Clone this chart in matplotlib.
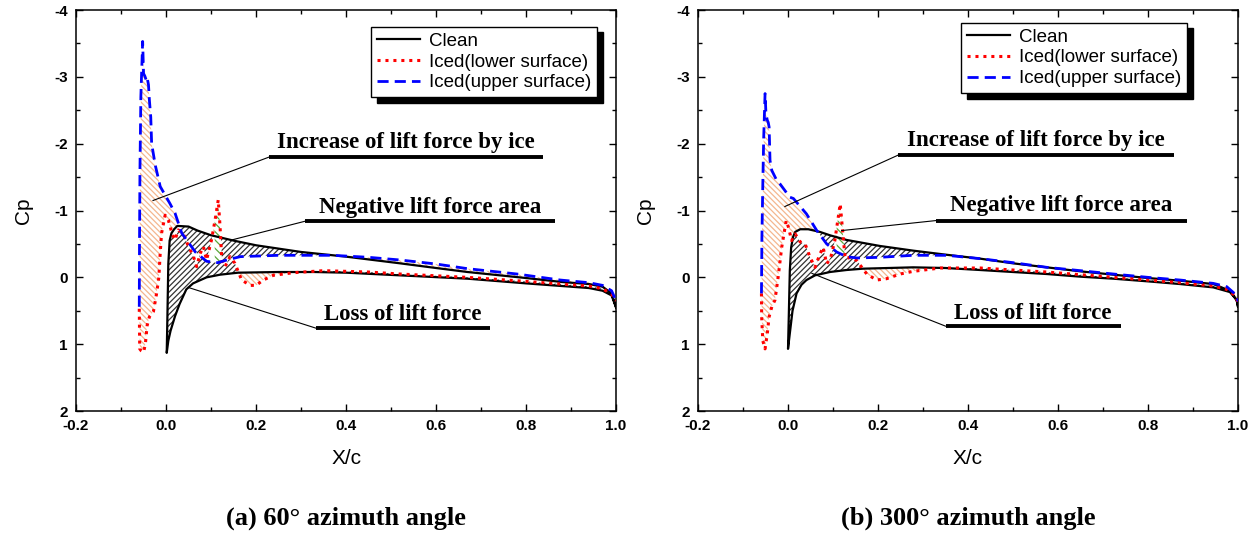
import numpy as np
import matplotlib.pyplot as plt
from matplotlib.ticker import MultipleLocator

# ---- data (x/c, Cp) ----
# (a) 60 deg azimuth
clean_up_x_a = [0.0015, 0.003, 0.005, 0.008, 0.012, 0.018, 0.025, 0.05, 0.07, 0.1, 0.15, 0.2, 0.3, 0.4,
                0.52, 0.6, 0.67, 0.8, 0.88, 0.94, 0.97, 0.99, 1.0]
clean_up_cp_a = [1.13, 0.6, -0.2, -0.55, -0.66, -0.72, -0.77, -0.76, -0.7, -0.63, -0.55, -0.48, -0.38, -0.31,
                 -0.21, -0.14, -0.08, 0.01, 0.07, 0.1, 0.14, 0.24, 0.45]
clean_lo_x_a = [0.0015, 0.005, 0.01, 0.02, 0.03, 0.045, 0.06, 0.09, 0.12, 0.16, 0.25, 0.33, 0.4, 0.52, 0.67,
                0.8, 0.88, 0.94, 0.97, 0.99, 1.0]
clean_lo_cp_a = [1.13, 0.95, 0.8, 0.58, 0.4, 0.18, 0.09, 0.0, -0.04, -0.07, -0.08, -0.08, -0.07, -0.03, 0.02,
                 0.09, 0.13, 0.16, 0.2, 0.27, 0.45]
iced_up_x_a = [-0.0595, -0.059, -0.058, -0.056, -0.052, -0.05, -0.047, -0.044, -0.042, -0.039, -0.037, -0.034,
               -0.032, -0.024, -0.013, 0.009, 0.02, 0.035, 0.065, 0.09, 0.115, 0.135, 0.165, 0.25, 0.37, 0.45,
               0.52, 0.6, 0.67, 0.78, 0.876, 0.94, 0.97, 0.99, 1.0]
iced_up_cp_a = [0.44, -0.5, -1.6, -2.7, -3.53, -3.05, -3.01, -2.95, -2.99, -2.88, -2.65, -2.4,
                -2.0, -1.68, -1.36, -1.1, -0.96, -0.66, -0.38, -0.24, -0.22, -0.26, -0.31, -0.33, -0.33, -0.3,
                -0.26, -0.2, -0.13, -0.05, 0.04, 0.08, 0.12, 0.2, 0.35]
iced_lo_x_a = [-0.0595, -0.0585, -0.055, -0.05, -0.046, -0.042, -0.037, -0.028, -0.021, -0.016, -0.013, -0.01,
               -0.002, 0.005, 0.013, 0.02, 0.027, 0.038, 0.05, 0.061, 0.068, 0.076, 0.083, 0.09, 0.101, 0.109,
               0.116, 0.12, 0.124, 0.131, 0.142, 0.153, 0.168, 0.187, 0.2, 0.216, 0.238, 0.283, 0.35, 0.45,
               0.52, 0.67, 0.8, 0.876, 0.94, 0.97, 0.99, 1.0]
iced_lo_cp_a = [0.47, 1.07, 1.1, 1.12, 1.0, 0.72, 0.59, 0.51, 0.24, 0.0, -0.36, -0.66,
                -0.93, -0.86, -0.66, -0.56, -0.71, -0.66, -0.46, -0.31, -0.16, -0.36, -0.46, -0.26, -0.56, -0.86,
                -1.16, -0.76, -0.26, -0.16, -0.31, -0.21, 0.04, 0.12, 0.12, 0.04, -0.03, -0.07, -0.1, -0.08,
                -0.05, 0.0, 0.06, 0.1, 0.13, 0.17, 0.25, 0.35]

# (b) 300 deg azimuth
clean_up_x_b = [0.0, 0.002, 0.004, 0.007, 0.011, 0.016, 0.027, 0.045, 0.071, 0.093, 0.13, 0.204, 0.278, 0.35,
                0.427, 0.5, 0.575, 0.65, 0.723, 0.8, 0.871, 0.945, 0.982, 0.997, 1.0]
clean_up_cp_b = [1.07, 0.5, -0.1, -0.45, -0.6, -0.68, -0.72, -0.72, -0.68, -0.63, -0.56, -0.47, -0.4, -0.34,
                 -0.28, -0.21, -0.15, -0.09, -0.04, 0.01, 0.05, 0.1, 0.2, 0.34, 0.44]
clean_lo_x_b = [0.0, 0.004, 0.01, 0.019, 0.03, 0.041, 0.06, 0.093, 0.13, 0.167, 0.278, 0.35, 0.427, 0.5, 0.575,
                0.65, 0.723, 0.8, 0.871, 0.945, 0.982, 0.997, 1.0]
clean_lo_cp_b = [1.07, 0.84, 0.5, 0.24, 0.11, 0.04, -0.03, -0.08, -0.11, -0.13, -0.15, -0.14, -0.11, -0.08,
                 -0.05, -0.01, 0.02, 0.06, 0.1, 0.15, 0.22, 0.34, 0.44]
iced_up_x_b = [-0.059, -0.058, -0.056, -0.054, -0.051, -0.049, -0.046, -0.044, -0.042, -0.04, -0.036, -0.025,
               -0.018, 0.004, 0.012, 0.041, 0.064, 0.086, 0.108, 0.13, 0.153, 0.204, 0.278, 0.353, 0.427, 0.5,
               0.575, 0.65, 0.723, 0.8, 0.871, 0.945, 0.975, 0.997, 1.0]
iced_up_cp_b = [0.24, -0.6, -1.4, -2.1, -2.75, -2.45, -2.35, -2.32, -2.25, -1.75, -1.6, -1.45,
                -1.4, -1.2, -1.18, -0.95, -0.7, -0.5, -0.38, -0.31, -0.29, -0.3, -0.33, -0.33, -0.28, -0.22,
                -0.15, -0.1, -0.05, 0.0, 0.04, 0.09, 0.14, 0.27, 0.36]
iced_lo_x_b = [-0.059, -0.0585, -0.056, -0.051, -0.046, -0.042, -0.036, -0.029, -0.022, -0.014, -0.004, 0.001,
               0.008, 0.016, 0.027, 0.038, 0.049, 0.06, 0.071, 0.078, 0.086, 0.095, 0.104, 0.116, 0.122, 0.127,
               0.14, 0.153, 0.175, 0.197, 0.219, 0.249, 0.278, 0.338, 0.427, 0.5, 0.575, 0.65, 0.723, 0.8,
               0.871, 0.945, 0.975, 0.995, 1.0]
iced_lo_cp_b = [0.24, 0.6, 0.95, 1.07, 0.84, 0.59, 0.44, 0.34, 0.0, -0.45, -0.85, -0.75,
                -0.55, -0.65, -0.53, -0.5, -0.3, -0.15, -0.35, -0.45, -0.2, -0.3, -0.55, -1.1, -0.65, -0.28,
                -0.3, -0.25, -0.05, 0.04, 0.02, -0.05, -0.09, -0.14, -0.14, -0.11, -0.08, -0.04, 0.0, 0.04,
                0.08, 0.13, 0.18, 0.28, 0.38]

legend_labels = ['Clean', 'Iced(lower surface)', 'Iced(upper surface)']
captions = ['(a) 60° azimuth angle', '(b) 300° azimuth angle']
note_texts = ['Increase of lift force by ice', 'Negative lift force area', 'Loss of lift force']

# annotation geometry in data coords: (underline x0, x1, y, text y, leader end x, y)
notes_a = [(0.229, 0.838, -1.80, -1.93, -0.029, -1.15),
           (0.309, 0.864, -0.84, -0.97, 0.146, -0.56),
           (0.333, 0.720, 0.76, 0.64, 0.049, 0.15)]
notes_b = [(0.245, 0.858, -1.83, -1.96, -0.007, -1.06),
           (0.329, 0.886, -0.85, -0.99, 0.119, -0.70),
           (0.350, 0.739, 0.73, 0.62, 0.053, -0.06)]

ORANGE = '#f4b78f'
GREEN = '#5aa83a'
plt.rcParams['hatch.linewidth'] = 0.9
sans = 'Liberation Sans'
serif = 'Liberation Serif'


def fill_areas(ax, cux, cuc, clx, clc, bx, bc, rx, rc, spike):
    xg = np.linspace(min(bx[0], rx[0]), 1.0, 4000)
    ctop = np.interp(xg, cux, cuc, left=np.nan)
    cbot = np.interp(xg, clx, clc, left=np.nan)
    blue = np.interp(xg, bx, bc)
    red = np.interp(xg, rx, rc)
    lo = np.minimum(blue, red)
    hi = np.maximum(blue, red)
    clean = ~np.isnan(ctop)
    ctop_f = np.where(clean, ctop, 99)
    cbot_f = np.where(clean, cbot, 99)

    kw = dict(facecolor='none', linewidth=0, interpolate=True)
    # clean area not covered by iced area
    y2 = np.minimum(cbot_f, lo)
    ax.fill_between(xg, ctop_f, y2, where=clean & (y2 > ctop_f), hatch='//////', edgecolor='#333333', zorder=1, **kw)
    y1 = np.maximum(ctop_f, hi)
    ax.fill_between(xg, y1, cbot_f, where=clean & (cbot_f > y1), hatch='//////', edgecolor='#333333', zorder=1, **kw)
    # iced area outside the clean area
    y2 = np.where(clean, np.minimum(hi, ctop_f), hi)
    ax.fill_between(xg, lo, y2, where=y2 > lo, hatch='\\\\\\\\\\\\', edgecolor=ORANGE, zorder=1, **kw)
    y1 = np.maximum(lo, cbot_f)
    ax.fill_between(xg, y1, hi, where=clean & (hi > y1), hatch='\\\\\\\\\\\\', edgecolor=ORANGE, zorder=1, **kw)
    # ice spike above the upper iced curve
    sp = (xg > spike[0]) & (xg < spike[1]) & (red < blue)
    ax.fill_between(xg, red, blue, where=sp, facecolor='white', linewidth=0, interpolate=True, zorder=1.5)
    ax.fill_between(xg, red, blue, where=sp, hatch='\\\\\\\\', edgecolor=GREEN, zorder=1.6, **kw)


def draw_panel(ax, cux, cuc, clx, clc, bx, bc, rx, rc, notes, caption, legend_anchor, spike):
    fill_areas(ax, cux, cuc, clx, clc, bx, bc, rx, rc, spike)
    clean_x = list(clx[::-1]) + list(cux)
    clean_cp = list(clc[::-1]) + list(cuc)
    ax.plot(clean_x, clean_cp, color='black', lw=1.6, zorder=3, label=legend_labels[0])
    ax.plot(rx, rc, color='red', lw=2.2, ls=(0, (1, 1.6)), zorder=4, label=legend_labels[1])
    ax.plot(bx, bc, color='blue', lw=2.0, ls=(0, (4, 2.2)), zorder=4, label=legend_labels[2])

    for (x0, x1, yu, yt, xe, ye), txt in zip(notes, note_texts):
        ax.plot([x0, x1], [yu, yu], color='black', lw=2.8, solid_capstyle='butt', zorder=5)
        ax.plot([x0, xe], [yu, ye], color='black', lw=0.8, zorder=5)
        ax.text((x0 + x1) / 2, yt, txt, ha='center', va='baseline', fontsize=16.5,
                family=serif, fontweight='bold', zorder=6)

    ax.set_xlim(-0.2, 1.0)
    ax.set_ylim(2, -4)
    ax.xaxis.set_major_locator(MultipleLocator(0.2))
    ax.xaxis.set_minor_locator(MultipleLocator(0.1))
    ax.yaxis.set_major_locator(MultipleLocator(1))
    ax.yaxis.set_minor_locator(MultipleLocator(0.5))
    ax.set_xticklabels([f'{v:.1f}' for v in ax.get_xticks()])
    ax.set_yticklabels([f'{v:.0f}' for v in ax.get_yticks()])
    ax.tick_params(which='both', direction='in', top=True, right=True, width=1.0, pad=6)
    ax.tick_params(which='major', length=5)
    ax.tick_params(which='minor', length=3)
    for lab in ax.get_xticklabels() + ax.get_yticklabels():
        lab.set_fontfamily(sans)
        lab.set_fontweight('bold')
        lab.set_fontsize(11)
    for sp in ax.spines.values():
        sp.set_linewidth(1.1)
    ax.set_xlabel('X/c', fontsize=15, family=sans, labelpad=11)
    ax.set_ylabel('Cp', fontsize=15, family=sans, labelpad=15)

    leg = ax.legend(loc='upper right', bbox_to_anchor=legend_anchor, borderaxespad=0,
                    prop={'family': sans, 'size': 13.5}, fancybox=False, edgecolor='black',
                    framealpha=1, handlelength=2.3, handletextpad=0.5, labelspacing=0.2,
                    borderpad=0.3, shadow={'color': 'black', 'alpha': 1, 'ox': 4, 'oy': -4})
    leg.get_frame().set_linewidth(1.0)
    leg.set_zorder(10)

    ax.text(0.5, -0.267, caption, transform=ax.transAxes, ha='center', va='center',
            fontsize=19, family=serif, fontweight='bold')


fig = plt.figure(figsize=(12.57, 5.37), dpi=100)
ax_a = fig.add_axes([0.0605, 0.2346, 0.4296, 0.7467])
ax_b = fig.add_axes([0.5553, 0.2346, 0.4296, 0.7467])

draw_panel(ax_a, clean_up_x_a, clean_up_cp_a, clean_lo_x_a, clean_lo_cp_a,
           iced_up_x_a, iced_up_cp_a, iced_lo_x_a, iced_lo_cp_a, notes_a, captions[0],
           (0.965, 0.958), (0.108, 0.124))
draw_panel(ax_b, clean_up_x_b, clean_up_cp_b, clean_lo_x_b, clean_lo_cp_b,
           iced_up_x_b, iced_up_cp_b, iced_lo_x_b, iced_lo_cp_b, notes_b, captions[1],
           (0.906, 0.968), (0.108, 0.126))

fig.savefig('out.png', dpi=100)
